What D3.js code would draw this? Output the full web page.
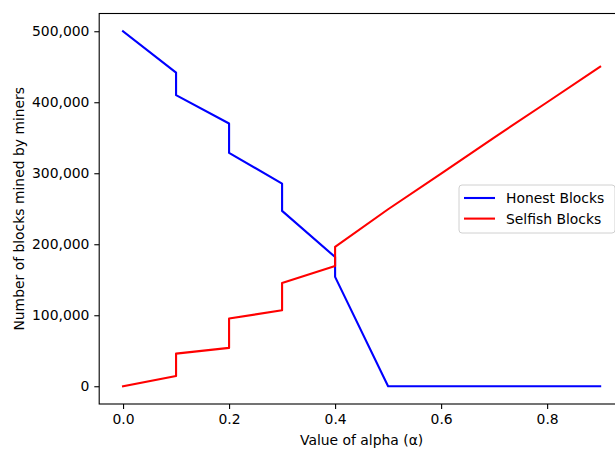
<!DOCTYPE html>
<html>
<head>
<meta charset="utf-8">
<script src="https://cdn.jsdelivr.net/npm/d3@7"></script>
<style>
  body { margin: 0; background: #fff; }
  svg { display: block; font-family: "DejaVu Sans", sans-serif; }
</style>
</head>
<body>
<div id="chart"></div>
<script>
// data (steps at each 0.1 of alpha)
var alphaValues = [0, 0.1, 0.1, 0.2, 0.2, 0.3, 0.3, 0.4, 0.4, 0.5, 0.6, 0.7, 0.8, 0.9];
var honestBlocks = [500000, 441800, 410000, 370000, 328600, 285500, 247000, 182000, 154000, 0, 0, 0, 0, 0];
var selfishBlocks = [0, 14500, 46000, 54000, 95300, 107000, 145500, 169500, 196200, 249300, 299500, 350300, 400000, 450000];
var xTicks = [0, 0.2, 0.4, 0.6, 0.8];
var yTicks = [0, 100000, 200000, 300000, 400000, 500000];
var seriesNames = ["Honest Blocks", "Selfish Blocks"];
var seriesColors = ["#0000ff", "#ff0000"];

var width = 615, height = 449;
var box = { left: 99.2, right: 624, top: 13.5, bottom: 404 };

var svg = d3.select("#chart")
    .append("svg")
    .attr("width", width)
    .attr("height", height);

var x = d3.scaleLinear()
    .domain([-0.045, 0.945])
    .range([box.left, box.right]);

var y = d3.scaleLinear()
    .domain([-25000, 525000])
    .range([box.bottom, box.top]);

// x axis
var xAxis = svg.append("g")
    .attr("transform", "translate(0," + box.bottom + ")")
    .call(d3.axisBottom(x).tickValues(xTicks).tickFormat(d3.format(".1f")).tickSize(4.9).tickPadding(4.9));
xAxis.select(".domain").remove();
xAxis.selectAll("line").attr("stroke", "#000").attr("stroke-width", 1.1);
xAxis.selectAll("text").attr("font-size", 13.9).attr("fill", "#000").attr("font-family", "DejaVu Sans");

// y axis
var yAxis = svg.append("g")
    .attr("transform", "translate(" + box.left + ",0)")
    .call(d3.axisLeft(y).tickValues(yTicks).tickFormat(d3.format(",")).tickSize(4.9).tickPadding(4.9));
yAxis.select(".domain").remove();
yAxis.selectAll("line").attr("stroke", "#000").attr("stroke-width", 1.1);
yAxis.selectAll("text").attr("font-size", 13.9).attr("fill", "#000").attr("font-family", "DejaVu Sans");

// lines
var series = [honestBlocks, selfishBlocks];
var line = d3.line()
    .x(function (d, i) { return x(alphaValues[i]); })
    .y(function (d) { return y(d); });

svg.append("g")
    .selectAll("path")
    .data(series)
    .enter()
    .append("path")
    .attr("d", function (d) { return line(d); })
    .attr("fill", "none")
    .attr("stroke", function (d, i) { return seriesColors[i]; })
    .attr("stroke-width", 2.1)
    .attr("stroke-linejoin", "round")
    .attr("stroke-linecap", "square");

// frame
svg.append("rect")
    .attr("x", box.left)
    .attr("y", box.top)
    .attr("width", box.right - box.left)
    .attr("height", box.bottom - box.top)
    .attr("fill", "none")
    .attr("stroke", "#000")
    .attr("stroke-width", 1.1);

// axis labels
svg.append("text")
    .attr("x", (box.left + box.right) / 2)
    .attr("y", 445)
    .attr("text-anchor", "middle")
    .attr("font-size", 13.9)
    .text("Value of alpha (α)");

svg.append("text")
    .attr("transform", "translate(24," + ((box.top + box.bottom) / 2) + ") rotate(-90)")
    .attr("text-anchor", "middle")
    .attr("font-size", 13.9)
    .text("Number of blocks mined by miners");

// legend
var legend = svg.append("g").attr("transform", "translate(459,185)");
legend.append("rect")
    .attr("width", 156)
    .attr("height", 48)
    .attr("rx", 3)
    .attr("fill", "#fff")
    .attr("fill-opacity", 0.8)
    .attr("stroke", "#d0d0d0")
    .attr("stroke-width", 1);

seriesNames.forEach(function (name, i) {
    var row = legend.append("g").attr("transform", "translate(0," + (13 + i * 20.6) + ")");
    row.append("line")
        .attr("x1", 5).attr("x2", 36)
        .attr("y1", 0).attr("y2", 0)
        .attr("stroke", seriesColors[i])
        .attr("stroke-width", 2.1);
    row.append("text")
        .attr("x", 47)
        .attr("y", 5)
        .attr("font-size", 13.9)
        .text(name);
});
</script>
</body>
</html>
